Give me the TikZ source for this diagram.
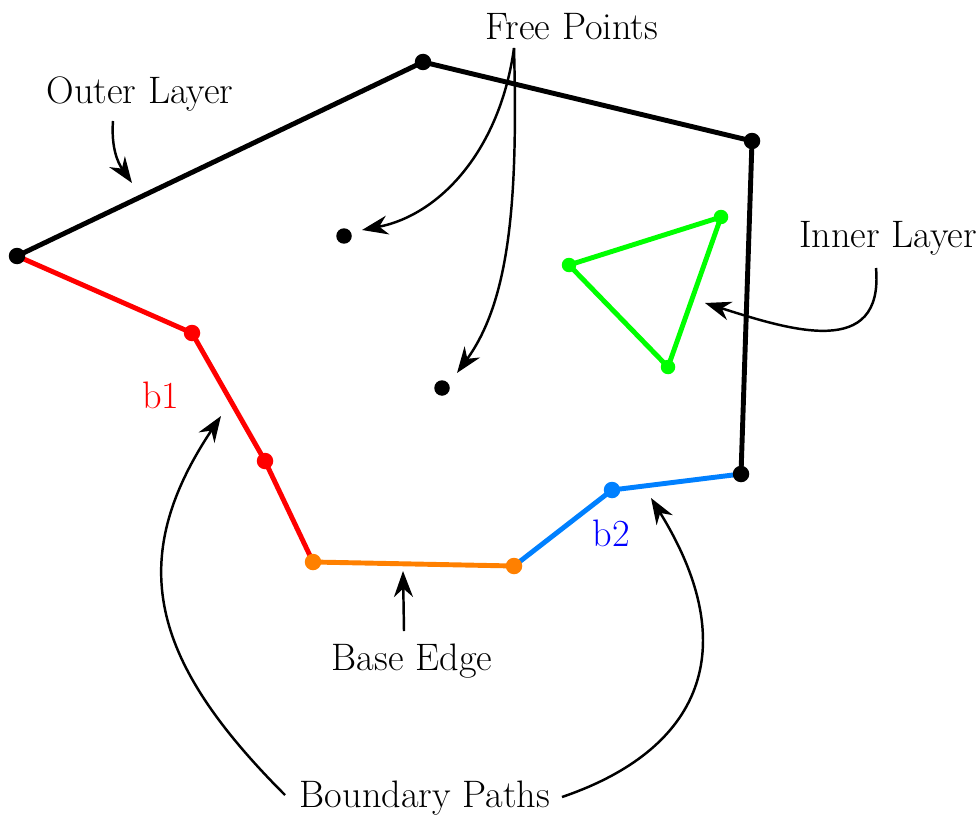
\documentclass[tikz,border=0pt]{standalone}
\usetikzlibrary{arrows.meta}
\definecolor{myorange}{RGB}{255,128,0}
\definecolor{myblue}{RGB}{0,128,255}
\definecolor{mygreen}{RGB}{0,255,0}
\begin{document}
\begin{tikzpicture}[x=0.02cm,y=-0.02cm,
  lbl/.style={font=\fontsize{21.8}{26}\selectfont, inner sep=0pt},
  dot/.style={circle, fill=#1, inner sep=0pt, minimum size=0.33cm},
  fdot/.style={circle, fill=black, inner sep=0pt, minimum size=0.31cm},
  edge/.style={line width=2.8pt, line cap=round, line join=round},
  callout/.style={line width=1.4pt, -{Stealth[length=0.52cm, width=0.38cm]}}]
\useasboundingbox (0,0) rectangle (979,814);
% outer layer vertices
\coordinate (o1) at (17,256);
\coordinate (o2) at (423,62);
\coordinate (o3) at (752,141);
\coordinate (o4) at (741,474);
% red path
\coordinate (r1) at (192,333);
\coordinate (r2) at (265,461);
\coordinate (e1) at (313,562);
\coordinate (e2) at (514,566);
\coordinate (bl1) at (612,490);
% inner
\coordinate (g1) at (569,265);
\coordinate (g2) at (721,217);
\coordinate (g3) at (668,367);

\draw[edge, black] (o1) -- (o2) -- (o3) -- (o4);
\draw[edge, red] (o1) -- (r1) -- (r2) -- (e1);
\draw[edge, myorange] (e1) -- (e2);
\draw[edge, myblue] (e2) -- (bl1) -- (o4);
\draw[edge, mygreen] (g1) -- (g2) -- (g3) -- cycle;

\node[dot=black] (n1) at (o1) {};
\node[dot=black] (n2) at (o2) {};
\node[dot=black] (n3) at (o3) {};
\node[dot=black] (n4) at (o4) {};
\node[dot=red] (n5) at (r1) {};
\node[dot=red] (n6) at (r2) {};
\node[dot=myorange] (n7) at (e1) {};
\node[dot=myorange] (n8) at (e2) {};
\node[dot=myblue] (n9) at (bl1) {};
\node[dot=mygreen, minimum size=0.29cm] (n10) at (g1) {};
\node[dot=mygreen, minimum size=0.29cm] (n11) at (g2) {};
\node[dot=mygreen, minimum size=0.29cm] (n12) at (g3) {};
\node[fdot] (f1) at (344,236) {};
\node[fdot] (f2) at (442,388) {};

% labels
\node[lbl] (tfree) at (572,27) {Free Points};
\node[lbl] (touter) at (140,94) {Outer Layer};
\node[lbl] (tinner) at (888,238) {Inner Layer};
\node[lbl, text=red] (tb1) at (161,395) {b1};
\node[lbl, text=blue] (tb2) at (611,533) {b2};
\node[lbl] (tbase) at (412,661) {Base Edge};
\node[lbl] (tbound) at (425,798) {Boundary Paths};

% arrow endpoints
\coordinate (aOs) at (113,121);
\coordinate (aOe) at (132,183);
\coordinate (aFs) at (514,48);
\coordinate (aF1) at (362,230);
\coordinate (aF2) at (457,373);
\coordinate (aIs) at (876,268);
\coordinate (aIe) at (705,303);
\coordinate (aBs) at (404,631);
\coordinate (aBe) at (403,571);
\coordinate (aL) at (285,795);
\coordinate (aLe) at (221,416);
\coordinate (aR) at (562,797);
\coordinate (aRe) at (651,498);

\draw[callout] (aOs) .. controls (111,148) and (118,163) .. (aOe);
\draw[callout] (aFs) .. controls (500,150) and (440,215) .. (aF1);
\draw[callout] (aFs) .. controls (518,200) and (510,300) .. (aF2);
\draw[callout] (aIs) .. controls (884,360) and (790,330) .. (aIe);
\draw[callout] (aBs) -- (aBe);
\draw[callout] (aL) .. controls (150,660) and (125,560) .. (aLe);
\draw[callout] (aR) .. controls (700,750) and (745,650) .. (aRe);
\end{tikzpicture}
\end{document}
